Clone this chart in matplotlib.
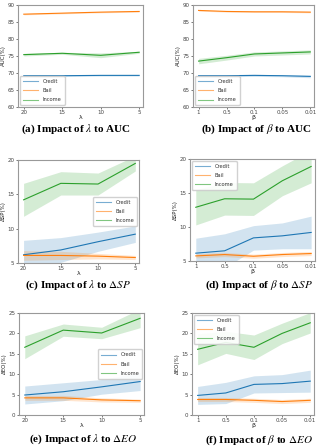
import numpy as np
import matplotlib
matplotlib.use("Agg")
import matplotlib.pyplot as plt

plt.rcParams['mathtext.fontset'] = 'stix'

lam_ticks = ['20', '15', '10', '5']
beta_ticks = ['1', '0.5', '0.1', '0.05', '0.01']
series = ['Credit', 'Bail', 'Income']
colors = ['#1f77b4', '#ff7f0e', '#2ca02c']

# (a) lambda -> AUC
auc_lam_credit = [69.2, 69.2, 69.3, 69.3]
auc_lam_bail = [87.3, 87.6, 87.9, 88.1]
auc_lam_income = [75.4, 75.8, 75.2, 76.1]
auc_lam_credit_sd = [0.2, 0.2, 0.2, 0.2]
auc_lam_bail_sd = [0.2, 0.2, 0.2, 0.2]
auc_lam_income_sd = [0.4, 0.3, 0.7, 0.3]

# (b) beta -> AUC
auc_beta_credit = [69.2, 69.2, 69.3, 69.2, 69.0]
auc_beta_bail = [88.4, 88.1, 88.0, 88.0, 87.9]
auc_beta_income = [73.5, 74.5, 75.6, 75.9, 76.2]
auc_beta_credit_sd = [0.3, 0.3, 0.3, 0.3, 0.4]
auc_beta_bail_sd = [0.2, 0.2, 0.2, 0.2, 0.2]
auc_beta_income_sd = [0.8, 0.7, 0.6, 0.6, 0.6]

# (c) lambda -> dSP
sp_lam_credit = [6.2, 6.9, 8.1, 9.2]
sp_lam_bail = [6.1, 6.1, 6.0, 5.8]
sp_lam_income = [14.2, 16.6, 16.5, 19.5]
sp_lam_credit_sd = [2.1, 1.8, 1.4, 1.2]
sp_lam_bail_sd = [0.7, 0.6, 0.4, 0.3]
sp_lam_income_sd = [2.4, 1.7, 1.6, 1.1]

# (d) beta -> dSP
sp_beta_credit = [6.15, 6.5, 8.4, 8.7, 9.2]
sp_beta_bail = [5.75, 5.95, 5.7, 5.95, 6.1]
sp_beta_income = [12.9, 14.15, 14.1, 16.8, 18.9]
sp_beta_credit_sd = [2.2, 2.5, 1.8, 1.9, 2.4]
sp_beta_bail_sd = [0.3, 0.3, 0.3, 0.3, 0.3]
sp_beta_income_sd = [2.6, 2.4, 2.4, 2.2, 2.4]

# (e) lambda -> dEO
eo_lam_credit = [4.9, 5.7, 6.9, 8.2]
eo_lam_bail = [4.2, 4.2, 3.7, 3.5]
eo_lam_income = [16.6, 20.8, 20.1, 23.7]
eo_lam_credit_sd = [2.2, 2.2, 1.8, 2.2]
eo_lam_bail_sd = [0.6, 0.6, 0.5, 0.4]
eo_lam_income_sd = [2.8, 1.5, 1.4, 2.3]

# (f) beta -> dEO
eo_beta_credit = [4.8, 5.4, 7.5, 7.7, 8.3]
eo_beta_bail = [3.8, 3.8, 3.6, 3.3, 3.6]
eo_beta_income = [16.1, 17.8, 16.6, 20.0, 22.6]
eo_beta_credit_sd = [2.2, 2.6, 2.1, 2.2, 2.7]
eo_beta_bail_sd = [0.5, 0.5, 0.5, 0.5, 0.5]
eo_beta_income_sd = [3.8, 2.7, 3.0, 2.5, 2.5]

W, H = 318, 447
fig = plt.figure(figsize=(W / 100, H / 100), dpi=100)

def box(l, t, r, b):
    return [l / W, 1 - b / H, (r - l) / W, (b - t) / H]

panels = [
    # box, ticks, data, sds, ylim, yticks, ylabel, xlabel, legend loc, caption, caption pos
    (box(18, 5, 143, 107), lam_ticks,
     [auc_lam_credit, auc_lam_bail, auc_lam_income],
     [auc_lam_credit_sd, auc_lam_bail_sd, auc_lam_income_sd],
     (60, 90), range(60, 91, 5), 'AUC(%)', 'λ', 'lower left',
     r'(a) Impact of $\lambda$ to AUC', (76, 129)),
    (box(193, 5, 314, 107), beta_ticks,
     [auc_beta_credit, auc_beta_bail, auc_beta_income],
     [auc_beta_credit_sd, auc_beta_bail_sd, auc_beta_income_sd],
     (60, 90), range(60, 91, 5), 'AUC(%)', 'β', 'lower left',
     r'(b) Impact of $\beta$ to AUC', (256, 129)),
    (box(18, 160, 139, 263), lam_ticks,
     [sp_lam_credit, sp_lam_bail, sp_lam_income],
     [sp_lam_credit_sd, sp_lam_bail_sd, sp_lam_income_sd],
     (5, 20), range(5, 21, 5), 'ΔSP(%)', 'λ', 'center right',
     r'(c) Impact of $\lambda$ to $\Delta SP$', (78, 285)),
    (box(190, 159, 315, 261), beta_ticks,
     [sp_beta_credit, sp_beta_bail, sp_beta_income],
     [sp_beta_credit_sd, sp_beta_bail_sd, sp_beta_income_sd],
     (5, 20), range(5, 21, 5), 'ΔSP(%)', 'β', 'upper left',
     r'(d) Impact of $\beta$ to $\Delta SP$', (259, 285)),
    (box(19, 313, 144, 415), lam_ticks,
     [eo_lam_credit, eo_lam_bail, eo_lam_income],
     [eo_lam_credit_sd, eo_lam_bail_sd, eo_lam_income_sd],
     (0, 25), range(0, 26, 5), 'ΔEO(%)', 'λ', 'center right',
     r'(e) Impact of $\lambda$ to $\Delta EO$', (83, 439)),
    (box(192, 313, 314, 415), beta_ticks,
     [eo_beta_credit, eo_beta_bail, eo_beta_income],
     [eo_beta_credit_sd, eo_beta_bail_sd, eo_beta_income_sd],
     (0, 25), range(0, 26, 5), 'ΔEO(%)', 'β', 'upper left',
     r'(f) Impact of $\beta$ to $\Delta EO$', (259, 440)),
]

for rect, ticks, data, sds, ylim, yticks, ylab, xlab, loc, cap, cpos in panels:
    ax = fig.add_axes(rect)
    x = np.arange(len(ticks))
    for name, c, y, sd in zip(series, colors, data, sds):
        y = np.array(y)
        sd = np.array(sd)
        ax.fill_between(x, y - sd, y + sd, color=c, alpha=0.2, linewidth=0)
        ax.plot(x, y, color=c, lw=0.8, label=name)
    ax.set_xticks(x)
    ax.set_xticklabels(ticks)
    ax.set_ylim(*ylim)
    ax.set_yticks(list(yticks))
    ax.set_xlim(-0.15 * (len(ticks) - 1) / 3, len(ticks) - 1 + 0.1 * (len(ticks) - 1) / 3)
    ax.tick_params(labelsize=4, colors='#444444', length=1.5, width=0.5, pad=1)
    for s in ax.spines.values():
        s.set_color('#999999')
        s.set_linewidth(0.8)
    ax.set_ylabel(ylab, fontsize=4, labelpad=1, color='#222222')
    ax.set_xlabel(xlab, fontsize=4.5, labelpad=0, color='#222222')
    leg = ax.legend(loc=loc, fontsize=3.7, frameon=True, handlelength=3.0,
                    borderpad=0.6, labelspacing=0.8, framealpha=0.9,
                    handletextpad=0.9, borderaxespad=0.3)
    for t in leg.get_texts():
        t.set_color('#333333')
    for h in leg.get_lines():
        h.set_alpha(0.6)
    fig.text(cpos[0] / W, 1 - cpos[1] / H, cap, ha='center', va='center',
             fontsize=8, fontweight='bold', family='Liberation Serif')

fig.savefig('out.png', dpi=100)
